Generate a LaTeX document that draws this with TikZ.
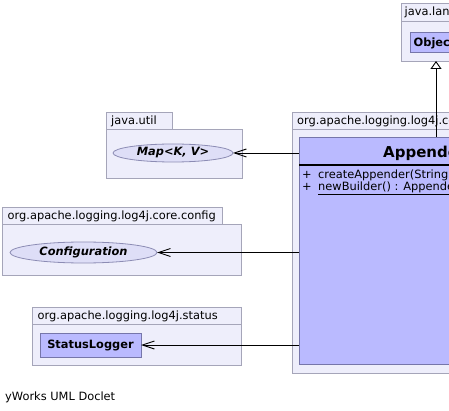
\documentclass[tikz,border=0pt]{standalone}
\usepackage{fontspec}
\setmainfont{DejaVu Sans}
\usetikzlibrary{arrows.meta,shapes.geometric}
\definecolor{pkgfill}{RGB}{238,238,251}
\definecolor{pkgdraw}{RGB}{165,165,185}
\definecolor{clsfill}{RGB}{186,186,255}
\definecolor{clsdraw}{RGB}{118,118,170}
\definecolor{ifcfill}{RGB}{222,222,247}
\definecolor{ifcdraw}{RGB}{140,140,180}
\begin{document}
\begin{tikzpicture}[x=1pt,y=-1pt,
  font=\fontsize{11.4}{13}\selectfont,
  pkg/.style={draw=pkgdraw,fill=pkgfill,line width=0.8pt,anchor=north west,inner sep=0pt,outer sep=0pt},
  cls/.style={draw=clsdraw,fill=clsfill,line width=0.8pt,anchor=north west,inner sep=0pt,outer sep=0pt},
  ifc/.style={ellipse,draw=ifcdraw,fill=ifcfill,line width=0.8pt,inner sep=0pt,outer sep=0pt,font=\fontsize{11.4}{13}\selectfont\bfseries\itshape},
  lbl/.style={anchor=base west,inner sep=0pt},
  bname/.style={anchor=base west,inner sep=0pt,font=\fontsize{11.4}{13}\selectfont\bfseries},
  dep/.style={line width=0.9pt,-{Straight Barb[length=12pt,width=8pt,line width=0.9pt]}},
  inh/.style={line width=0.9pt,-{Triangle[open,length=8pt,width=11pt,fill=white,line width=0.9pt]}}
]
\useasboundingbox (0,0) rectangle (449,411);
\clip (0,0) rectangle (449,411);
\fill[white] (0,0) rectangle (449,411);

% java.lang
\node[pkg,minimum width=80pt,minimum height=18pt] (langtab) at (401,3) {};
\node[pkg,minimum width=80pt,minimum height=40pt] (langpkg) at (401,21) {};
\node[lbl] (langlbl) at (404.5,15.5) {java.lang};
\node[cls,minimum width=60pt,minimum height=20pt] (obj) at (410,32) {};
\node[bname] (objlbl) at (413.5,46.5) {Object};

% main package
\node[pkg,minimum width=300pt,minimum height=17pt] (maintab) at (292,112) {};
\node[pkg,minimum width=300pt,minimum height=244pt] (mainpkg) at (292,129) {};
\node[lbl] (mainlbl) at (297,124.5) {org.apache.logging.log4j.core.appender};
\node[cls,minimum width=280pt,minimum height=227pt] (app) at (299,137) {};
\node[anchor=base west,inner sep=0pt,font=\fontsize{15}{17}\selectfont\bfseries] (applbl) at (383,157.5) {Appender};
\coordinate (sepr) at (600,165);
\draw[line width=1.6pt] (app.west |- sepr) -- (sepr);
\node[lbl] (m1p) at (302,179) {+};
\node[lbl] (m1) at (318,179) {createAppender(String};
\node[lbl] (m2p) at (302,190.5) {+};
\node[lbl] (m2) at (318,190.5) {\underline{newBuilder() : Appender}};

% java.util
\node[pkg,minimum width=66pt,minimum height=17pt] (utiltab) at (106,112) {};
\node[pkg,minimum width=136pt,minimum height=49pt] (utilpkg) at (106,129) {};
\node[lbl] (utillbl) at (111,124.5) {java.util};
\node[ifc,minimum width=120pt,minimum height=18pt] (map) at (173,153) {Map<K, V>};

% config
\node[pkg,minimum width=220pt,minimum height=17pt] (conftab) at (2,207) {};
\node[pkg,minimum width=239pt,minimum height=51pt] (confpkg) at (2,224) {};
\node[lbl] (conflbl) at (7.5,219.5) {org.apache.logging.log4j.core.config};
\node[ifc,minimum width=147pt,minimum height=21pt] (conf) at (83.5,252.5) {Configuration};

% status
\node[pkg,minimum width=209pt,minimum height=17pt] (stattab) at (32,307) {};
\node[pkg,minimum width=209pt,minimum height=41pt] (statpkg) at (32,324) {};
\node[lbl] (statlbl) at (37.5,319.5) {org.apache.logging.log4j.status};
\node[cls,minimum width=101pt,minimum height=24pt,font=\fontsize{11.4}{13}\selectfont\bfseries] (slog) at (40,333) {StatusLogger};

% connectors
\draw[dep] (app.west |- map.east) -- (map.east);
\draw[dep] (app.west |- conf.east) -- (conf.east);
\draw[dep] (app.west |- slog.east) -- (slog.east);
\coordinate (inhx) at (436,0);
\draw[inh] (app.north -| inhx) -- (langpkg.south -| inhx);

\node[lbl] (footer) at (5,400) {yWorks UML Doclet};
\end{tikzpicture}
\end{document}
